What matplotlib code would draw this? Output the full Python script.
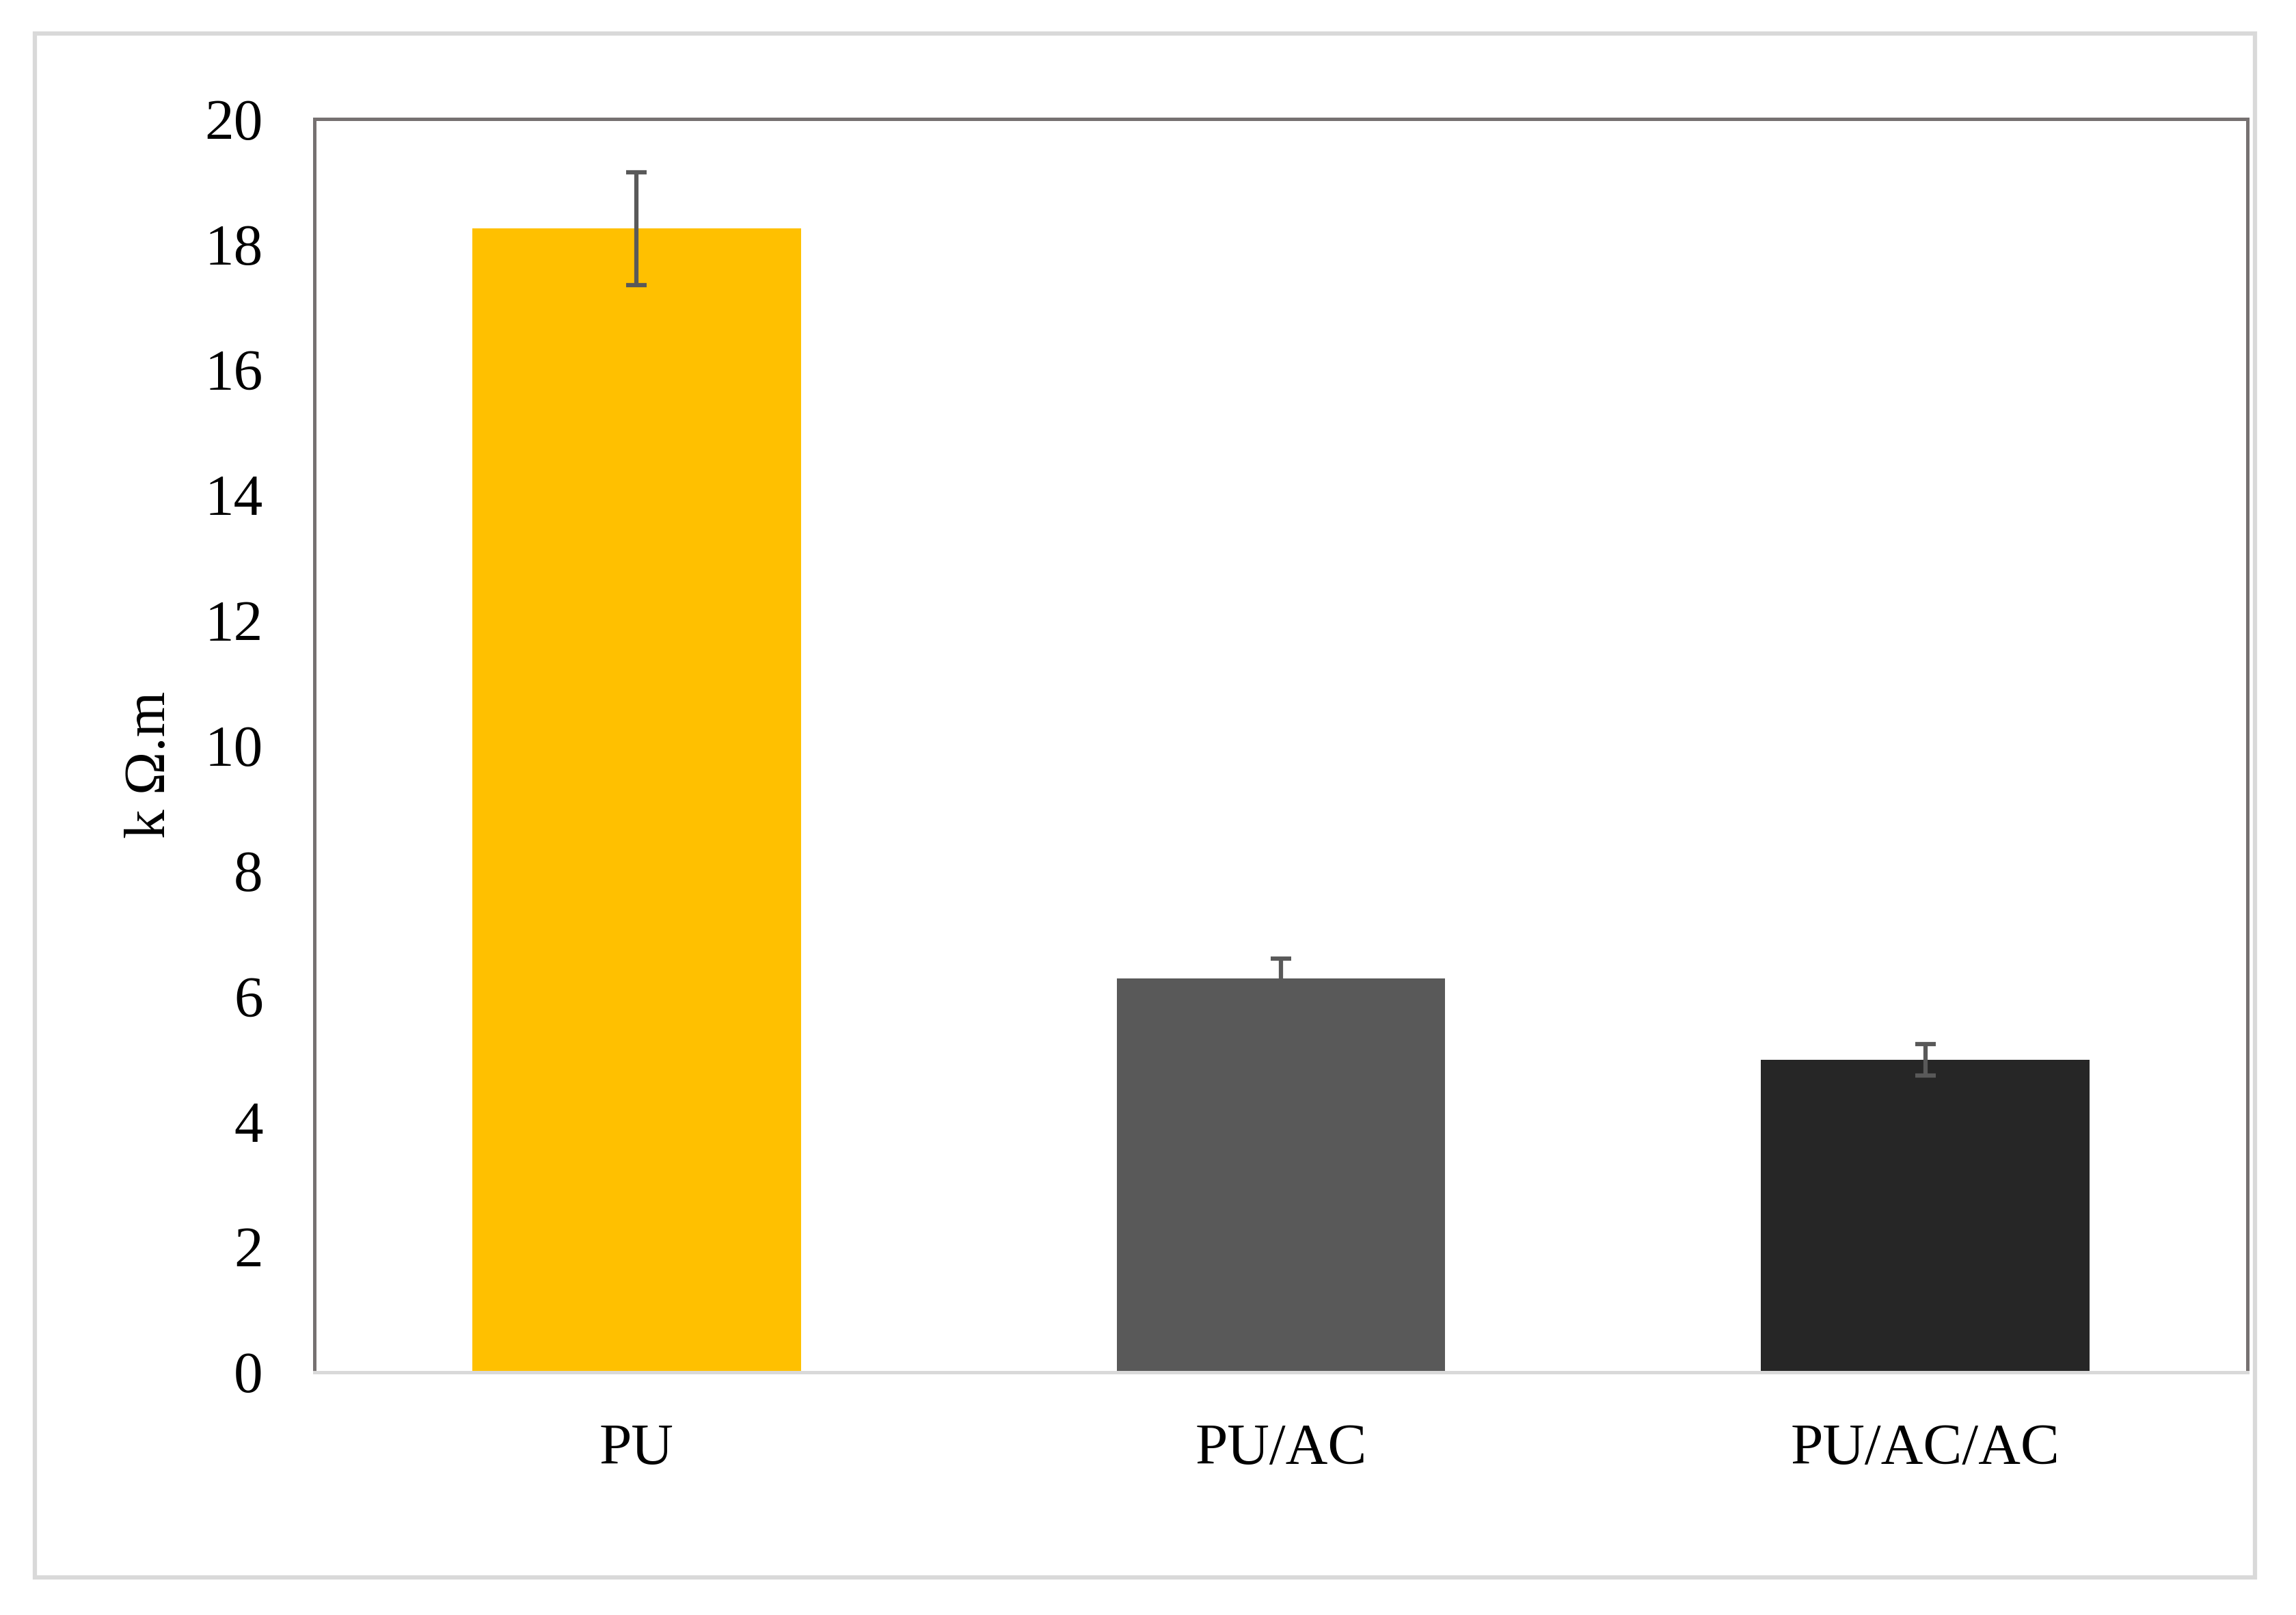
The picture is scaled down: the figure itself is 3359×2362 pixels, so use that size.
import matplotlib.pyplot as plt
from matplotlib.patches import Rectangle

# data
samples = ["PU", "PU/AC", "PU/AC/AC"]
resistivity = [18.25, 6.28, 4.99]
errors = [0.9, 0.32, 0.25]
bar_colors = ["#FFC000", "#595959", "#262626"]
y_ticks = [0, 2, 4, 6, 8, 10, 12, 14, 16, 18, 20]

plt.rcParams["font.family"] = ["Liberation Serif", "DejaVu Serif"]

fig = plt.figure(figsize=(3359 / 300, 2362 / 300), dpi=300)
ax = fig.add_axes([0.1369, 0.1503, 0.8420, 0.7760])

x = list(range(len(samples)))
ax.bar(x, resistivity, width=0.51, color=bar_colors, zorder=2)
ax.errorbar(x, resistivity, yerr=errors, fmt="none", ecolor="#595959",
            elinewidth=1.5, capsize=3.6, capthick=1.5, zorder=3)

ax.set_xlim(-0.5, 2.5)
ax.set_ylim(0, 20)
ax.set_yticks(y_ticks)
ax.set_xticks(x)
ax.set_xticklabels(samples)
ax.tick_params(axis="both", length=0, labelsize=20.5, pad=18)
ax.set_ylabel("k \u03a9.m", fontsize=20.5)
ax.yaxis.set_label_coords(-0.071, 0.485)

for side in ["left", "top", "right"]:
    ax.spines[side].set_color("#767171")
    ax.spines[side].set_linewidth(1.2)
ax.spines["bottom"].set_color("#D9D9D9")
ax.spines["bottom"].set_linewidth(1.2)

# light grey chart frame around everything
fig.patches.append(Rectangle((51 / 3359, 1 - 2307 / 2362), (3299 - 51) / 3359,
                             (2307 - 49) / 2362, transform=fig.transFigure,
                             fill=False, edgecolor="#D9D9D9", linewidth=1.5))

fig.savefig("out.png", dpi=300)
plt.close()
